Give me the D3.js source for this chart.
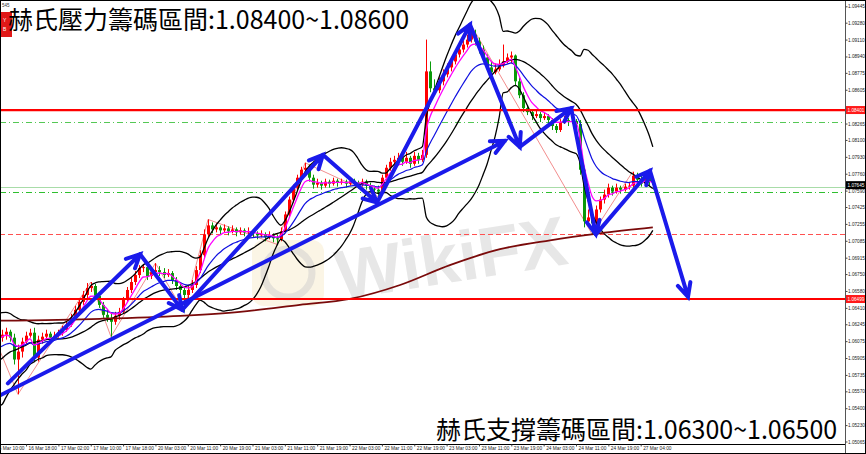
<!DOCTYPE html>
<html><head><meta charset="utf-8">
<script src="https://cdn.jsdelivr.net/npm/d3@7"></script>
<style>body{margin:0;background:#fff}svg{display:block}</style>
</head><body>
<svg id="c" width="866" height="454"></svg>
<script>
// ---------- DATA ----------
const timeLabels = ["16 Mar 10:00","16 Mar 18:00","17 Mar 02:00","17 Mar 10:00","17 Mar 18:00","20 Mar 03:00","20 Mar 11:00","20 Mar 19:00","21 Mar 03:00","21 Mar 11:00","21 Mar 19:00","22 Mar 03:00","22 Mar 11:00","22 Mar 19:00","23 Mar 03:00","23 Mar 11:00","23 Mar 19:00","24 Mar 03:00","24 Mar 11:00","24 Mar 19:00","27 Mar 04:00"];
const timeTickIndex = [0,8,16,24,32,40,48,56,64,72,80,88,96,104,112,120,128,136,144,152,160];
const priceTicks = [1.09445,1.09280,1.09110,1.08940,1.08775,1.08605,1.08265,1.08100,1.07930,1.07760,1.07590,1.07425,1.07255,1.07085,1.06915,1.06750,1.06580,1.06410,1.06245,1.06075,1.05905,1.05735,1.05570,1.05400,1.05230,1.05065];

const opens = [1.0607,1.0609,1.0611,1.0614,1.0617,1.0611,1.0589,1.0597,1.0607,1.0613,1.0616,1.0591,1.0609,1.0612,1.0615,1.0611,1.0613,1.0616,1.0619,1.0624,1.0631,1.0639,1.0647,1.0654,1.0661,1.0663,1.0653,1.0644,1.0634,1.0631,1.0627,1.0633,1.0637,1.0649,1.0659,1.0667,1.0674,1.0681,1.0682,1.0673,1.0677,1.0679,1.0677,1.0674,1.0676,1.0669,1.0663,1.0659,1.0654,1.0659,1.0664,1.0679,1.0694,1.0715,1.0724,1.0720,1.0722,1.0719,1.0721,1.0718,1.0720,1.0717,1.0719,1.0717,1.0718,1.0716,1.0714,1.0715,1.0712,1.0714,1.0711,1.0710,1.0718,1.0735,1.0750,1.0762,1.0772,1.0780,1.0782,1.0772,1.0765,1.0767,1.0764,1.0768,1.0766,1.0769,1.0767,1.0768,1.0766,1.0769,1.0767,1.0765,1.0768,1.0764,1.0761,1.0760,1.0758,1.0772,1.0782,1.0788,1.0790,1.0792,1.0788,1.0792,1.0786,1.0794,1.0790,1.0795,1.0879,1.0862,1.0860,1.0869,1.0876,1.0883,1.0889,1.0896,1.0901,1.0906,1.0911,1.0916,1.0909,1.0901,1.0893,1.0883,1.0878,1.0881,1.0885,1.0889,1.0893,1.0895,1.0869,1.0855,1.0842,1.0838,1.0834,1.0836,1.0832,1.0834,1.0830,1.0824,1.0820,1.0828,1.0830,1.0828,1.0829,1.0826,1.0780,1.0728,1.0732,1.0726,1.0740,1.0750,1.0755,1.0762,1.0758,1.0762,1.0760,1.0763,1.0764,1.0774,1.0770,1.0766,1.0772,1.0768];
const highs = [1.0613,1.0615,1.0619,1.0621,1.0619,1.0615,1.0604,1.0611,1.0617,1.0620,1.0621,1.0613,1.0616,1.0619,1.0617,1.0617,1.0619,1.0623,1.0627,1.0635,1.0643,1.0651,1.0658,1.0666,1.0667,1.0665,1.0657,1.0647,1.0639,1.0635,1.0637,1.0641,1.0652,1.0662,1.0671,1.0678,1.0684,1.0685,1.0684,1.0681,1.0686,1.0683,1.0681,1.0680,1.0678,1.0672,1.0666,1.0662,1.0663,1.0669,1.0683,1.0699,1.0720,1.0730,1.0727,1.0726,1.0724,1.0725,1.0723,1.0724,1.0722,1.0722,1.0721,1.0722,1.0720,1.0718,1.0719,1.0717,1.0718,1.0716,1.0715,1.0722,1.0738,1.0753,1.0765,1.0775,1.0783,1.0787,1.0785,1.0775,1.0771,1.0769,1.0771,1.0770,1.0772,1.0771,1.0771,1.0770,1.0772,1.0771,1.0769,1.0771,1.0770,1.0767,1.0764,1.0764,1.0775,1.0785,1.0792,1.0794,1.0797,1.0795,1.0798,1.0794,1.0798,1.0797,1.0800,1.0911,1.0889,1.0871,1.0873,1.0881,1.0887,1.0893,1.0900,1.0905,1.0910,1.0916,1.0926,1.0921,1.0913,1.0905,1.0896,1.0889,1.0887,1.0891,1.0906,1.0897,1.0899,1.0896,1.0873,1.0858,1.0845,1.0840,1.0840,1.0838,1.0838,1.0836,1.0832,1.0826,1.0831,1.0834,1.0832,1.0833,1.0831,1.0830,1.0784,1.0740,1.0736,1.0744,1.0753,1.0760,1.0766,1.0764,1.0766,1.0764,1.0766,1.0767,1.0778,1.0777,1.0774,1.0776,1.0774,1.0771];
const lows = [1.0603,1.0605,1.0607,1.0609,1.0607,1.0584,1.0554,1.0591,1.0604,1.0611,1.0587,1.0587,1.0605,1.0609,1.0607,1.0608,1.0611,1.0613,1.0617,1.0622,1.0629,1.0636,1.0644,1.0651,1.0657,1.0650,1.0641,1.0631,1.0627,1.0612,1.0624,1.0629,1.0635,1.0647,1.0656,1.0664,1.0671,1.0677,1.0669,1.0670,1.0675,1.0673,1.0671,1.0672,1.0665,1.0659,1.0655,1.0637,1.0649,1.0656,1.0661,1.0676,1.0691,1.0712,1.0716,1.0717,1.0715,1.0717,1.0714,1.0716,1.0713,1.0715,1.0713,1.0715,1.0712,1.0710,1.0712,1.0708,1.0710,1.0707,1.0705,1.0708,1.0716,1.0732,1.0747,1.0760,1.0769,1.0778,1.0768,1.0761,1.0762,1.0760,1.0762,1.0762,1.0764,1.0763,1.0765,1.0762,1.0764,1.0764,1.0761,1.0763,1.0760,1.0757,1.0756,1.0753,1.0756,1.0770,1.0779,1.0785,1.0787,1.0784,1.0786,1.0782,1.0784,1.0786,1.0788,1.0792,1.0858,1.0855,1.0857,1.0865,1.0873,1.0879,1.0886,1.0893,1.0898,1.0903,1.0908,1.0905,1.0897,1.0889,1.0879,1.0875,1.0876,1.0879,1.0883,1.0887,1.0887,1.0864,1.0852,1.0838,1.0835,1.0830,1.0832,1.0828,1.0830,1.0826,1.0820,1.0817,1.0818,1.0826,1.0824,1.0826,1.0822,1.0775,1.0722,1.0724,1.0715,1.0724,1.0737,1.0746,1.0752,1.0754,1.0756,1.0756,1.0758,1.0760,1.0762,1.0766,1.0763,1.0764,1.0764,1.0760];
const closes = [1.0609,1.0611,1.0614,1.0617,1.0611,1.0589,1.0597,1.0607,1.0613,1.0616,1.0591,1.0609,1.0612,1.0615,1.0611,1.0613,1.0616,1.0619,1.0624,1.0631,1.0639,1.0647,1.0654,1.0661,1.0663,1.0653,1.0644,1.0634,1.0631,1.0627,1.0633,1.0637,1.0649,1.0659,1.0667,1.0674,1.0681,1.0682,1.0673,1.0677,1.0679,1.0677,1.0674,1.0676,1.0669,1.0663,1.0659,1.0654,1.0659,1.0664,1.0679,1.0694,1.0715,1.0724,1.0720,1.0722,1.0719,1.0721,1.0718,1.0720,1.0717,1.0719,1.0717,1.0718,1.0716,1.0714,1.0715,1.0712,1.0714,1.0711,1.0710,1.0718,1.0735,1.0750,1.0762,1.0772,1.0780,1.0782,1.0772,1.0765,1.0767,1.0764,1.0768,1.0766,1.0769,1.0767,1.0768,1.0766,1.0769,1.0767,1.0765,1.0768,1.0764,1.0761,1.0760,1.0758,1.0772,1.0782,1.0788,1.0790,1.0792,1.0788,1.0792,1.0786,1.0794,1.0790,1.0795,1.0879,1.0862,1.0860,1.0869,1.0876,1.0883,1.0889,1.0896,1.0901,1.0906,1.0911,1.0916,1.0909,1.0901,1.0893,1.0883,1.0878,1.0881,1.0885,1.0889,1.0893,1.0895,1.0869,1.0855,1.0842,1.0838,1.0834,1.0836,1.0832,1.0834,1.0830,1.0824,1.0820,1.0828,1.0830,1.0828,1.0829,1.0826,1.0780,1.0728,1.0732,1.0726,1.0740,1.0750,1.0755,1.0762,1.0758,1.0762,1.0760,1.0763,1.0764,1.0774,1.0770,1.0766,1.0772,1.0768,1.0765];
// closes before the first visible bar (only feed the indicators)
const warmupCloses = [1.0545,1.0551,1.0557,1.0563,1.0569,1.0577,1.0573,1.0581,1.0589,1.0597,1.0593,1.0601,1.0609,1.0614,1.0619,1.0615,1.0611];

// 200-period moving average: [bar index, price]
const ma200Points = [[0,1.0628],[26.3,1.0630],[46.1,1.0633],[60.9,1.0637],[75.7,1.0644],[88.1,1.0650],[100.5,1.0664],[112.8,1.0684],[125.2,1.0700],[137.6,1.0709],[149.9,1.0716],[163,1.0722]];
const zigzagPoints = [[0,1.0613],[6,1.0554],[24,1.0667],[29,1.0612],[40,1.0686],[47,1.0637],[53,1.0730],[70,1.0705],[77,1.0787],[95,1.0753],[118,1.0926],[148,1.0715],[158,1.0778]];
const arrowChain = [[3.5,1.0565],[36.2,1.0695],[46.6,1.0639],[81.4,1.0795],[94.8,1.0747],[117.8,1.0926],[130.1,1.0803],[142.8,1.0842],[148.9,1.0715],[162.3,1.0779],[171.7,1.0652]];
const longArrow = [[1.6,1.0553],[126.4,1.0809]];

const resistanceLevel = 1.08401, supportLevel = 1.06499, currentPrice = 1.07645;
const greenDashLevels = [1.08280, 1.07576];
const bidLevel = 1.07626;
const redDashLevel = 1.07153;
const titleTop = "赫氏壓力籌碼區間:1.08400~1.08600";
const titleBottom = "赫氏支撐籌碼區間:1.06300~1.06500";

// ---------- CHART ----------
const W = 866, H = 454, plotR = 845, plotB = 444;
const svg = d3.select("#c");
const x = d3.scaleLinear().domain([0,160]).range([-6.3,640.7]);
const y = d3.scaleLinear().domain([1.05065,1.09445]).range([441.5,6.3]);
const smallFont = "Liberation Sans, Arial, sans-serif";

svg.append("rect").attr("width",W).attr("height",H).attr("fill","#fff");
svg.append("defs").append("clipPath").attr("id","plot")
  .append("rect").attr("x",0).attr("y",0).attr("width",plotR).attr("height",plotB);
const g = svg.append("g").attr("clip-path","url(#plot)");

// watermark
g.append("rect").attr("x",252).attr("y",240).attr("width",72).attr("height",66).attr("rx",12)
  .attr("fill","#f7edcf").attr("opacity",0.55);
g.append("circle").attr("cx",288).attr("cy",273).attr("r",24).attr("fill","none")
  .attr("stroke","#c9c9c9").attr("stroke-width",7).attr("opacity",0.45);
g.append("text").attr("transform","translate(340,300) rotate(-9)")
  .attr("font-family",smallFont).attr("font-weight",700)
  .attr("font-size",70).attr("fill","#d4d4d4").attr("opacity",0.55).text("WikiFX");

// level lines
function hline(p, color, w, dash){
  const l = g.append("line").attr("x1",0).attr("x2",plotR)
    .attr("y1",Math.round(y(p))+0.5).attr("y2",Math.round(y(p))+0.5)
    .attr("stroke",color).attr("stroke-width",w);
  if (dash) l.attr("stroke-dasharray",dash);
}
hline(greenDashLevels[0], "#55c855", 1, "6,3,1,3");
hline(bidLevel, "#a8dca8", 1, null);
hline(greenDashLevels[1], "#2fbf2f", 1, "6,3,1,3");
hline(redDashLevel, "#ff5050", 1, "5,3");

// zigzag
g.append("path").datum(zigzagPoints)
  .attr("d", d3.line().x(d=>x(d[0])).y(d=>y(d[1])))
  .attr("fill","none").attr("stroke","#f08080").attr("stroke-width",0.9);

// candles
const up = "#ff0000", down = "#0a9a0a";
const idx = d3.range(closes.length);
const cx = i => Math.round(x(i));
g.append("g").selectAll("line").data(idx).join("line")
  .attr("x1",i=>cx(i)+0.5).attr("x2",i=>cx(i)+0.5)
  .attr("y1",i=>y(highs[i])).attr("y2",i=>y(lows[i]))
  .attr("stroke",i=>closes[i]>=opens[i]?up:down).attr("stroke-width",1);
g.append("g").selectAll("rect").data(idx).join("rect")
  .attr("x",i=>cx(i)-1).attr("width",3)
  .attr("y",i=>y(Math.max(opens[i],closes[i])))
  .attr("height",i=>Math.max(1,Math.abs(y(opens[i])-y(closes[i]))))
  .attr("fill",i=>closes[i]>=opens[i]?up:down);

// indicators from closes
const all = warmupCloses.concat(closes), off = warmupCloses.length;
const bands = idx.map(i=>{
  const k = i+off, w = all.slice(Math.max(0,k-19), k+1);
  const m = d3.mean(w), sd = Math.sqrt(d3.mean(w, v=>(v-m)*(v-m)));
  return {i, m, up:m+2*sd, lo:m-2*sd};
});
function ema(n){
  const a = 2/(n+1); let e = all[0]; const out = [];
  all.forEach((v,k)=>{ e = k===0 ? v : e + a*(v-e); if (k>=off) out.push({i:k-off, v:e}); });
  return out;
}
const lineBand = key => d3.line().x(d=>x(d.i)).y(d=>y(d[key])).curve(d3.curveMonotoneX);
["up","m","lo"].forEach(k=>{
  g.append("path").datum(bands).attr("d",lineBand(k))
    .attr("fill","none").attr("stroke","#000").attr("stroke-width",1.3);
});
g.append("path").datum(ema(13)).attr("d",lineBand("v"))
  .attr("fill","none").attr("stroke","#1010e0").attr("stroke-width",1.2);
g.append("path").datum(ema(5)).attr("d",lineBand("v"))
  .attr("fill","none").attr("stroke","#ff00ff").attr("stroke-width",1.3);
g.append("path").datum(ma200Points)
  .attr("d", d3.line().x(d=>x(d[0])).y(d=>y(d[1])).curve(d3.curveMonotoneX))
  .attr("fill","none").attr("stroke","#7a0a0a").attr("stroke-width",1.8);

// support / resistance
g.append("line").attr("x1",0).attr("x2",plotR).attr("y1",y(resistanceLevel)).attr("y2",y(resistanceLevel))
  .attr("stroke","#ff0000").attr("stroke-width",2.2);
g.append("line").attr("x1",0).attr("x2",plotR).attr("y1",y(supportLevel)).attr("y2",y(supportLevel))
  .attr("stroke","#ff0000").attr("stroke-width",2.2);

// arrows
const arrowColor = "#1a1aeb";
function arrow(p0,p1){
  const x0=x(p0[0]), y0=y(p0[1]), x1=x(p1[0]), y1=y(p1[1]);
  const ang = Math.atan2(y1-y0, x1-x0), L = 15, s = 0.45;
  g.append("path")
    .attr("d",`M${x0},${y0}L${x1},${y1}M${x1-L*Math.cos(ang-s)},${y1-L*Math.sin(ang-s)}L${x1},${y1}L${x1-L*Math.cos(ang+s)},${y1-L*Math.sin(ang+s)}`)
    .attr("fill","none").attr("stroke",arrowColor).attr("stroke-width",4)
    .attr("stroke-linecap","round").attr("stroke-linejoin","miter");
}
arrow(longArrow[0], longArrow[1]);
for (let k=0;k<arrowChain.length-1;k++) arrow(arrowChain[k], arrowChain[k+1]);

// frame
svg.append("line").attr("x1",0).attr("x2",plotR).attr("y1",plotB+0.5).attr("y2",plotB+0.5).attr("stroke","#000");
svg.append("line").attr("x1",plotR+0.5).attr("x2",plotR+0.5).attr("y1",0).attr("y2",H).attr("stroke","#555");
svg.append("rect").attr("x",0.5).attr("y",0.5).attr("width",W-1).attr("height",H-1).attr("fill","none").attr("stroke","#000");

// price axis
const yAxis = svg.append("g").attr("transform",`translate(${plotR+0.5},0)`)
  .call(d3.axisRight(y).tickValues(priceTicks).tickFormat(d3.format(".5f")).tickSize(2).tickPadding(0.5));
yAxis.select(".domain").remove();
yAxis.selectAll("text").attr("font-size",4.7).attr("font-family",smallFont).attr("fill","#222");
yAxis.selectAll("line").attr("stroke","#444");

function priceTag(p, bg){
  const gy = y(p);
  svg.append("rect").attr("x",plotR+1).attr("y",gy-4).attr("width",W-plotR-2).attr("height",8).attr("fill",bg);
  svg.append("text").attr("x",plotR+2.5).attr("y",gy).attr("dy","0.35em").attr("font-size",4.7)
    .attr("font-family",smallFont).attr("fill","#fff").text(d3.format(".5f")(p));
}
priceTag(resistanceLevel,"#ff1a1a");
priceTag(supportLevel,"#ff1a1a");
priceTag(currentPrice,"#000");

// time axis
const xAxis = svg.append("g").attr("transform",`translate(0,${plotB+0.5})`)
  .call(d3.axisBottom(x).tickValues(timeTickIndex).tickFormat((d,i)=>timeLabels[i]).tickSize(2).tickPadding(0.5));
xAxis.select(".domain").remove();
xAxis.selectAll("text").attr("text-anchor","start").attr("dx",2).attr("font-size",4.8)
  .attr("font-family",smallFont).attr("fill","#222");
xAxis.selectAll("line").attr("stroke","#444");

// corner marks
svg.append("text").attr("x",2).attr("y",6.5).attr("font-size",4.5).attr("font-family",smallFont).attr("fill","#333").text("545");
svg.append("rect").attr("x",1).attr("y",12).attr("width",11).attr("height",25).attr("fill","#e01818");
svg.append("text").attr("x",3).attr("y",22).attr("font-size",5).attr("fill","#fff").attr("font-family",smallFont).text("Y");
svg.append("text").attr("x",3).attr("y",31).attr("font-size",5).attr("fill","#fff").attr("font-family",smallFont).text("B");

// titles
svg.append("text").attr("x",8).attr("y",29).attr("font-size",25)
  .attr("font-family","'Noto Sans CJK TC','Noto Sans CJK SC',sans-serif").attr("fill","#000").text(titleTop);
svg.append("text").attr("x",436).attr("y",439).attr("font-size",25)
  .attr("font-family","'Noto Sans CJK TC','Noto Sans CJK SC',sans-serif").attr("fill","#000").text(titleBottom);
</script>
</body></html>
